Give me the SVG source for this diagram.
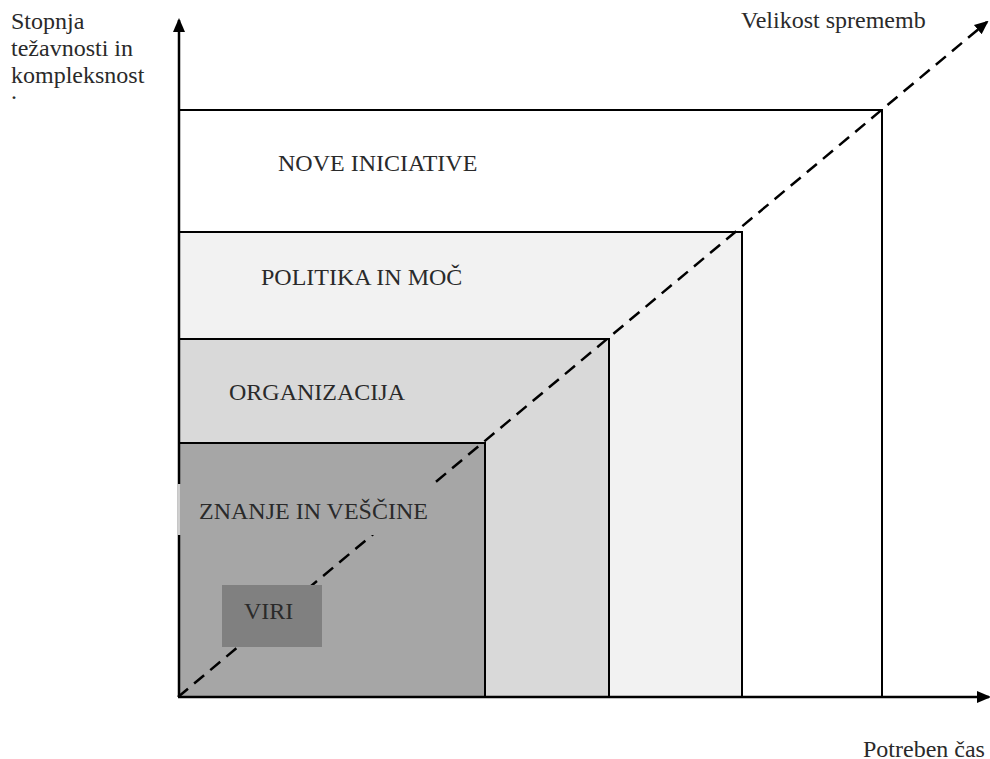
<svg xmlns="http://www.w3.org/2000/svg" width="990" height="759" viewBox="0 0 990 759">
<style>
.t{font-family:'Liberation Serif','Times New Roman',serif;font-size:24px;fill:#2a2a2a}
.box{stroke:#000;stroke-width:2}
.axis{stroke:#000;stroke-width:2.5;fill:none}
</style>
<defs>
<marker id="ah2" markerWidth="14" markerHeight="14" refX="12" refY="7" orient="auto" markerUnits="userSpaceOnUse" viewBox="0 0 14 14">
<path d="M0,1 L14,7 L0,13 z" fill="#000"/>
</marker>
</defs>
<rect width="990" height="759" fill="#fff"/>
<g id="nove"><rect class="box" x="179" y="110" width="703" height="587" fill="#fff"/><text class="t" x="278" y="171">NOVE INICIATIVE</text></g>
<g id="politika"><rect class="box" x="179" y="232" width="563" height="465" fill="#f2f2f2"/><text class="t" x="261" y="285">POLITIKA IN MOČ</text></g>
<g id="organizacija"><rect class="box" x="179" y="339" width="430" height="358" fill="#d9d9d9"/><text class="t" x="229" y="400">ORGANIZACIJA</text></g>
<g id="znanje"><rect class="box" x="179" y="443" width="306" height="254" fill="#a6a6a6"/></g>
<g id="connectors">
<line class="axis" x1="179" y1="697" x2="179" y2="20" marker-end="url(#ah2)"/>
<line class="axis" x1="178" y1="697" x2="989" y2="697" marker-end="url(#ah2)"/>
<line x1="178" y1="697" x2="987" y2="22" stroke="#000" stroke-width="2.5" stroke-dasharray="13,8" marker-end="url(#ah2)"/>
</g>
<g id="znanje-label"><rect x="180" y="484" width="257" height="51" fill="#a6a6a6"/><rect x="177.5" y="484" width="2.5" height="51" fill="#cfcfcf"/><text class="t" x="199" y="519">ZNANJE IN VEŠČINE</text></g>
<g id="viri"><rect x="222" y="585" width="100" height="62" fill="#808080"/><text class="t" x="244" y="619">VIRI</text></g>
<g id="labels">
<text class="t" x="11" y="29">Stopnja</text>
<text class="t" x="11" y="56">težavnosti in</text>
<text class="t" x="11" y="83">kompleksnost</text>
<text class="t" x="11" y="99">.</text>
<text class="t" x="741" y="28">Velikost sprememb</text>
<text class="t" x="863" y="757">Potreben čas</text>
</g>
</svg>
